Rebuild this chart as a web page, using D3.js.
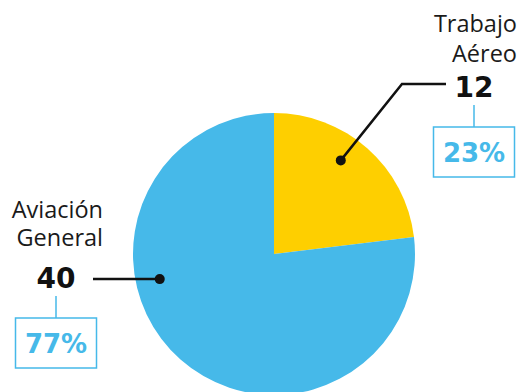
<!DOCTYPE html>
<html>
<head>
<meta charset="utf-8">
<style>
  body { margin: 0; background: #fff; }
  svg { display: block; }
  .cat { font-family: "Open Sans", sans-serif; font-size: 23.5px; fill: #1a1a1a; }
  .num { font-family: "DejaVu Sans", sans-serif; font-weight: bold; font-size: 28px; fill: #111; }
  .pct { font-family: "DejaVu Sans", sans-serif; font-weight: bold; font-size: 26px; fill: #46b9e9; }
</style>
</head>
<body>
<svg width="521" height="392"></svg>
<script src="https://d3js.org/d3.v7.min.js"></script>
<script>
  // data
  const categories = ["Trabajo Aéreo", "Aviación General"];
  const values = [12, 40];
  const colors = ["#fecf00", "#46b9e9"];
  const labelLines = [["Trabajo", "Aéreo"], ["Aviación", "General"]];

  const width = 521, height = 392;
  const cx = 274, cy = 254, radius = 141;
  const total = d3.sum(values);

  const svg = d3.select("svg");
  const g = svg.append("g").attr("transform", `translate(${cx},${cy})`);

  const pie = d3.pie().sort(null).value(d => d);
  const arcs = pie(values);
  const arc = d3.arc().innerRadius(0).outerRadius(radius);

  g.selectAll("path")
    .data(arcs)
    .join("path")
    .attr("d", arc)
    .attr("fill", (d, i) => colors[i]);

  // where the leader dots sit inside each slice (angle in deg, distance)
  const dotAngle = [35.5, 257.6];
  const dotDist = [115, 117];
  const dotPos = dotAngle.map((a, i) => {
    const r = a * Math.PI / 180;
    return [cx + Math.sin(r) * dotDist[i], cy - Math.cos(r) * dotDist[i]];
  });

  // label layout: number position
  const numPos = [[474, 97], [56, 288]];
  const fmt = d3.format(".0%");

  // leader lines
  const line = d3.line();
  const leaders = [
    [dotPos[0], [402, 84], [446, 84]],
    [dotPos[1], [93, 279]]
  ];
  svg.append("g").selectAll("path")
    .data(leaders)
    .join("path")
    .attr("d", d => line(d))
    .attr("fill", "none")
    .attr("stroke", "#111")
    .attr("stroke-width", 2.5);

  svg.append("g").selectAll("circle")
    .data(dotPos)
    .join("circle")
    .attr("cx", d => d[0])
    .attr("cy", d => d[1])
    .attr("r", 5)
    .attr("fill", "#111");

  // category labels
  const catRight = [517, 103];
  const catBase = [[32, 62], [218, 246]];
  labelLines.forEach((lines, i) => {
    svg.append("text")
      .attr("class", "cat")
      .attr("text-anchor", "end")
      .selectAll("tspan")
      .data(lines)
      .join("tspan")
      .attr("x", catRight[i])
      .attr("y", (d, j) => catBase[i][j])
      .text(d => d);
  });

  // values
  svg.append("g").selectAll("text")
    .data(values)
    .join("text")
    .attr("class", "num")
    .attr("text-anchor", "middle")
    .attr("x", (d, i) => numPos[i][0])
    .attr("y", (d, i) => numPos[i][1])
    .text(d => d);

  // percent boxes
  const boxW = 81, boxH = 50;
  const pg = svg.append("g").selectAll("g")
    .data(values)
    .join("g")
    .attr("transform", (d, i) => `translate(${numPos[i][0]},${numPos[i][1] + 8})`);

  pg.append("line")
    .attr("x1", 0).attr("x2", 0)
    .attr("y1", 0).attr("y2", 22)
    .attr("stroke", "#46b9e9")
    .attr("stroke-width", 1.5);

  pg.append("rect")
    .attr("x", -boxW / 2)
    .attr("y", 22)
    .attr("width", boxW)
    .attr("height", boxH)
    .attr("fill", "none")
    .attr("stroke", "#46b9e9")
    .attr("stroke-width", 1.5);

  pg.append("text")
    .attr("class", "pct")
    .attr("text-anchor", "middle")
    .attr("y", 22 + 35)
    .text(d => fmt(d / total));
</script>
</body>
</html>
